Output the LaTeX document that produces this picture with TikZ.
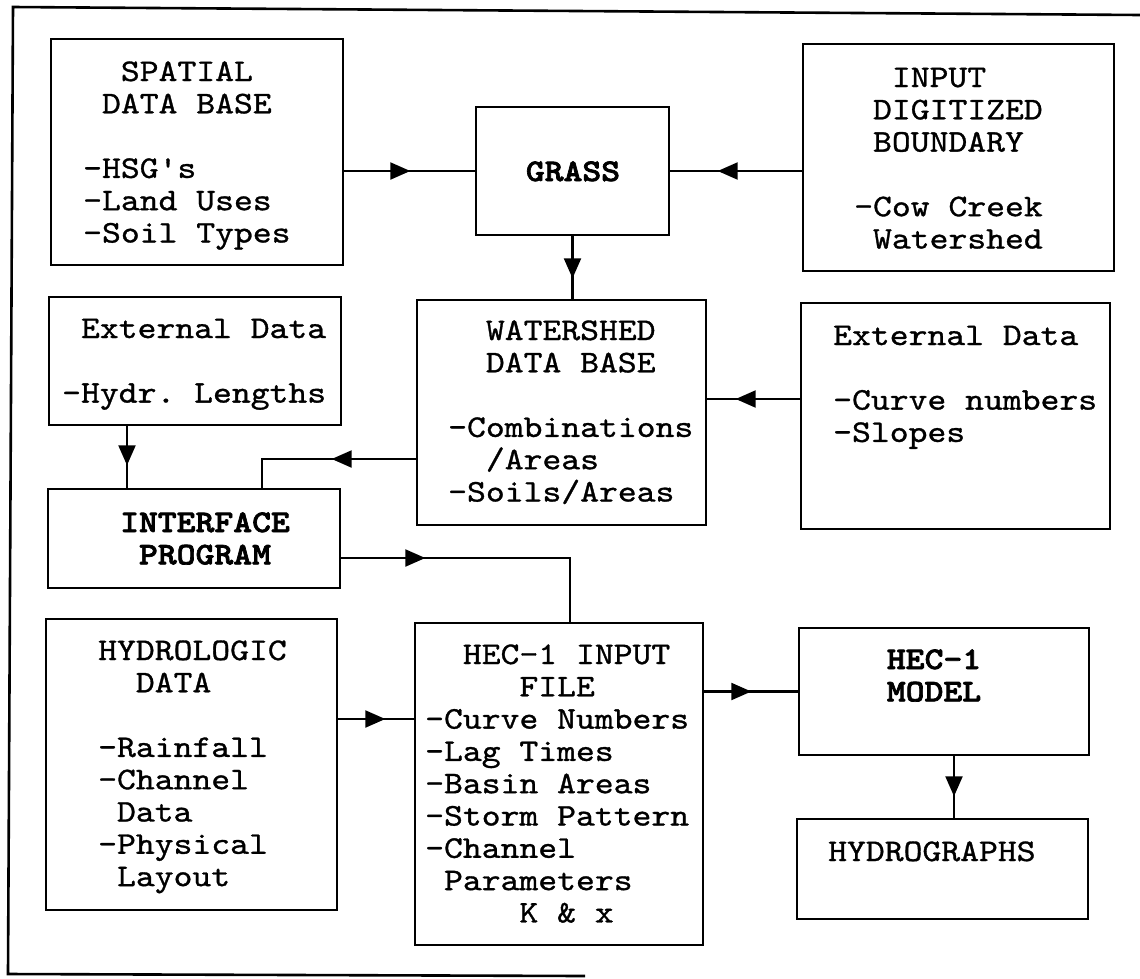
\documentclass[tikz,border=0pt]{standalone}
\usepackage{fontspec}
\setmonofont{lmmono10-regular.otf}[FakeStretch=1.14,
  UprightFeatures={FakeBold=1.0},
  BoldFont=lmmonolt10-bold.otf,
  BoldFeatures={FakeStretch=1.14,FakeBold=2.2}]
\usetikzlibrary{arrows.meta,decorations.markings}
\newcommand\ind[1]{\hspace*{#1\fontcharwd\font`X}}
\tikzset{
  box/.style={draw, line width=2.6pt, inner sep=0pt},
  conn/.style={line width=2.2pt},
  frameline/.style={line width=2.6pt},
  txt/.style={inner sep=0pt, anchor=base west, font=\ttfamily\fontsize{31.5}{32.3}\selectfont},
  btxt/.style={inner sep=0pt, anchor=base, font=\ttfamily\bfseries\fontsize{31.5}{32.3}\selectfont},
  midarrow/.style={postaction={decorate}, decoration={markings,
      mark=at position #1 with {\arrow{Triangle[length=20pt,width=17pt]}}}},
}
\begin{document}
\begin{tikzpicture}[x=1pt,y=-1pt]
\useasboundingbox (0,0) rectangle (1140,978);
% outer frame
\draw[frameline] (1140,15) -- (13,7) -- (8,974) -- (585,976);

% boxes
\node[box, minimum width=292pt, minimum height=226pt] (spatial) at (197,152) {};
\node[box, minimum width=193pt, minimum height=128pt] (grass) at (572.5,171) {};
\node[box, minimum width=311pt, minimum height=227pt] (input) at (958.5,157.5) {};
\node[box, minimum width=292pt, minimum height=128pt] (extL) at (195,361) {};
\node[box, minimum width=289pt, minimum height=225pt] (water) at (561.5,412.5) {};
\node[box, minimum width=309pt, minimum height=226pt] (extR) at (955.5,416) {};
\node[box, minimum width=292pt, minimum height=99pt] (interface) at (194,538.5) {};
\node[box, minimum width=291pt, minimum height=291pt] (hydro) at (191.5,764.5) {};
\node[box, minimum width=288pt, minimum height=322pt] (hecin) at (559,784) {};
\node[box, minimum width=290pt, minimum height=127pt] (model) at (944,691.5) {};
\node[box, minimum width=291pt, minimum height=100pt] (hgraph) at (942.5,869) {};

% texts
\node[txt] (tspatial) at (83,81) {\begin{tabular}[t]{@{}l@{}}\ind2SPATIAL\\ \ind1DATA BASE\\ \\ -HSG's\\ -Land Uses\\ -Soil Types\end{tabular}};
\node[btxt] (tgrass) at (573,181) {GRASS};
\node[txt] (tinput) at (854,87) {\begin{tabular}[t]{@{}l@{}}\ind2INPUT\\ \ind1DIGITIZED\\ \ind1BOUNDARY\\ \\ -Cow Creek\\ \ind1Watershed\end{tabular}};
\node[txt] (textL) at (62,338) {\begin{tabular}[t]{@{}l@{}}\ind1External Data\\ \\ -Hydr. Lengths\end{tabular}};
\node[txt] (twater) at (448,340) {\begin{tabular}[t]{@{}l@{}}\ind2WATERSHED\\ \ind2DATA BASE\\ \\ -Combinations\\ \ind2/Areas\\ -Soils/Areas\end{tabular}};
\node[txt] (textR) at (833,345) {\begin{tabular}[t]{@{}l@{}}External Data\\ \\ -Curve numbers\\ -Slopes\end{tabular}};
\node[btxt] (tinterface) at (205,532) {\begin{tabular}[t]{@{}c@{}}INTERFACE\\ PROGRAM\end{tabular}};
\node[txt] (thydro) at (98,660) {\begin{tabular}[t]{@{}l@{}}HYDROLOGIC\\ \ind2DATA\\ \\ -Rainfall\\ -Channel\\ \ind1Data\\ -Physical\\ \ind1Layout\end{tabular}};
\node[txt] (thecin) at (425,664) {\begin{tabular}[t]{@{}l@{}}\ind2HEC-1 INPUT\\ \ind5FILE\\ -Curve Numbers\\ -Lag Times\\ -Basin Areas\\ -Storm Pattern\\ -Channel\\ \ind1Parameters\\ \ind5K \& x\end{tabular}};
\node[btxt] (tmodel) at (934,669) {\begin{tabular}[t]{@{}c@{}}HEC-1\\ MODEL\end{tabular}};
\node[txt] (thgraph) at (828,861) {HYDROGRAPHS};

% helper coordinates
\coordinate (x1) at ([yshift=17pt]extR.west);
\coordinate (e1) at ([xshift=-68pt]extL.south);
\coordinate (w1) at ([yshift=-46.5pt]water.west);
\coordinate (i1) at ([xshift=68pt]interface.north);
\coordinate (i2) at ([yshift=-19.5pt]interface.east);
\coordinate (h1) at ([xshift=11pt]hecin.north);
\coordinate (hy) at ([yshift=45.5pt]hydro.east);
\coordinate (m1) at ([xshift=10pt]model.south);

% connectors
\draw[conn, midarrow=66pt] (spatial.east |- grass.west) -- (grass.west);
\draw[conn, midarrow=84pt] (input.west |- grass.east) -- (grass.east);
\draw[conn, midarrow=42pt] (grass.south) -- (grass.south |- water.north);
\draw[conn, midarrow=64pt] (x1) -- (x1 -| water.east);
\draw[conn, midarrow=39pt] (e1) -- (e1 |- interface.north);
\draw[conn, midarrow=84pt] (w1) -| (i1);
\draw[conn, midarrow=84pt] (i2) -| (h1);
\draw[conn, midarrow=47pt] (hy) -- (hy -| hecin.west);
\draw[conn, midarrow=47pt] (hecin.east |- model.west) -- (model.west);
\draw[conn, midarrow=40pt] (m1) -- (m1 |- hgraph.north);
\end{tikzpicture}
\end{document}
